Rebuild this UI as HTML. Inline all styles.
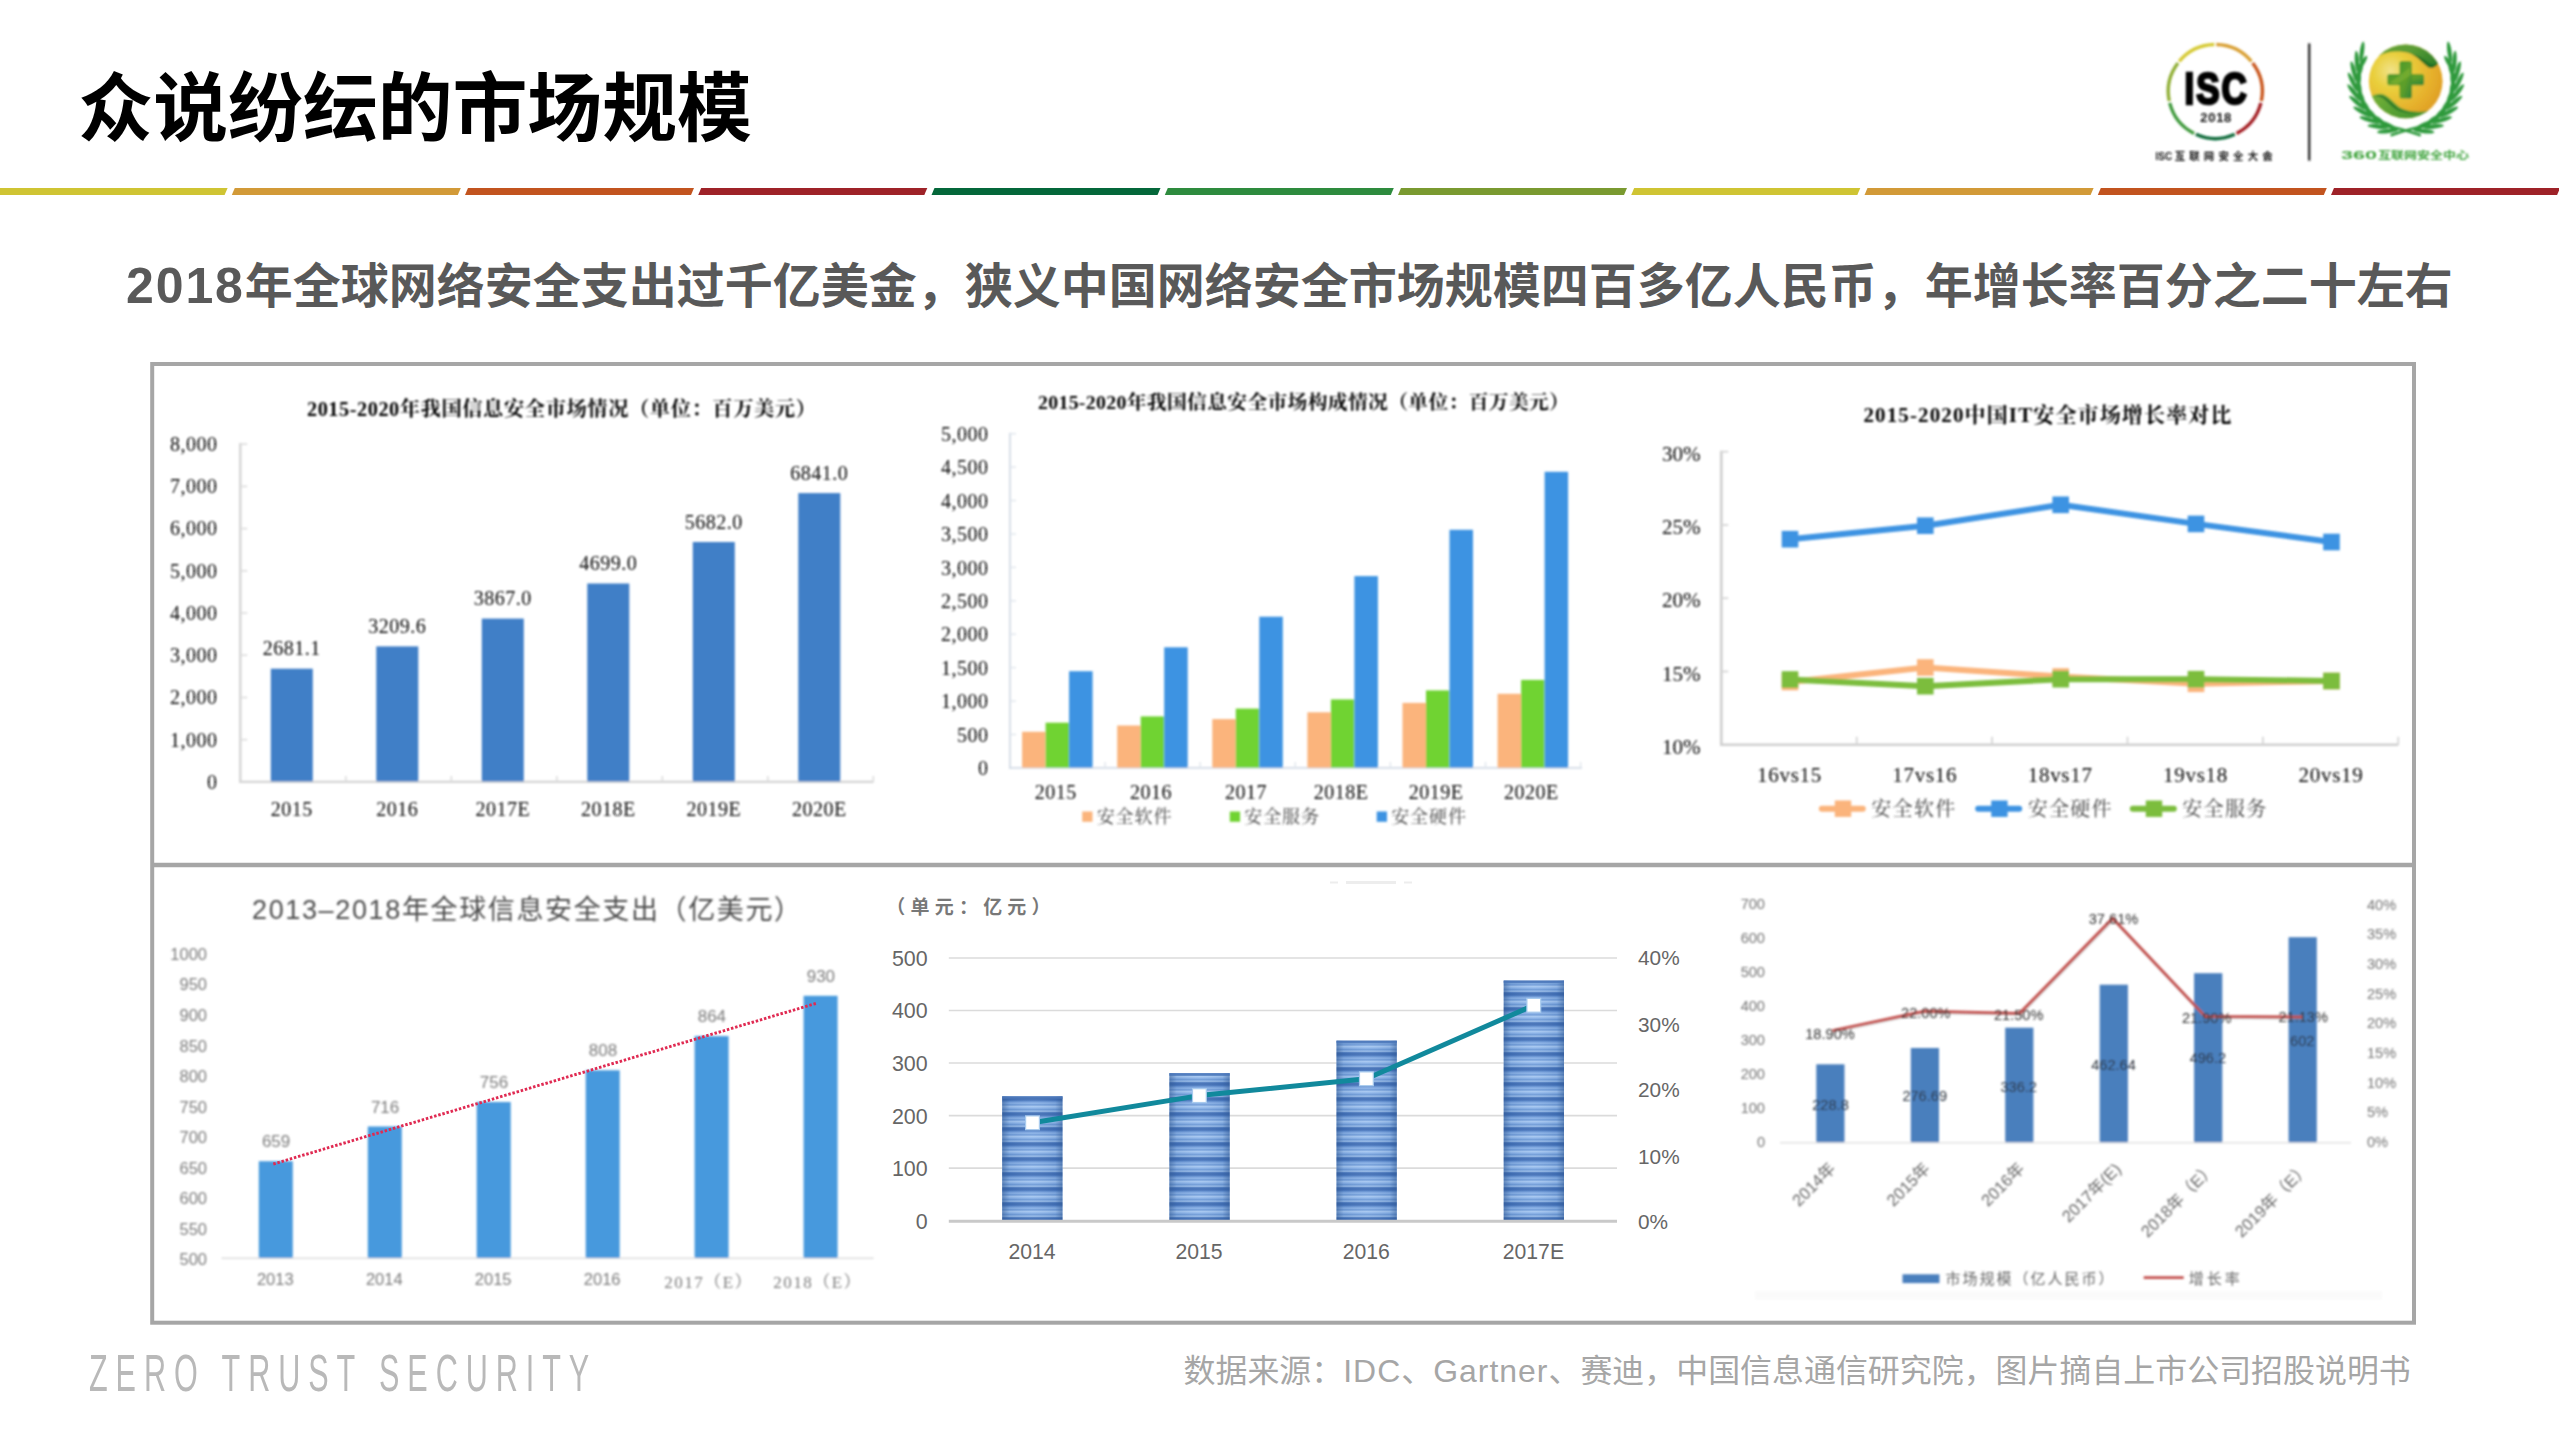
<!DOCTYPE html>
<html lang="zh-CN">
<head>
<meta charset="utf-8">
<title>众说纷纭的市场规模</title>
<style>
html,body{margin:0;padding:0;background:#fff;}
body{width:2559px;height:1439px;position:relative;overflow:hidden;font-family:"Liberation Sans","Noto Sans CJK SC",sans-serif;}
.abs{position:absolute;white-space:nowrap;}
#title{left:78.3px;top:54.3px;font-size:74.85px;font-weight:700;color:#000;line-height:110px;letter-spacing:0px;}
#sub{left:126px;top:251px;font-size:48px;font-weight:700;color:#595959;line-height:70px;}
#zts{left:89px;top:1341.5px;font-size:51px;color:#b9b9b9;line-height:64px;letter-spacing:13.2px;transform-origin:0 0;transform:scaleX(0.6);}
#src{left:1183.5px;top:1347px;font-size:31.95px;color:#a6a6a6;line-height:48px;}
svg{position:absolute;left:0;top:0;overflow:visible;}
svg text{white-space:pre;}
</style>
</head>
<body>
<div id="title" class="abs">众说纷纭的市场规模</div>
<div id="sub" class="abs"><span style="font-size:50px;letter-spacing:1.9px">2018</span>年全球网络安全支出过千亿美金，狭义中国网络安全市场规模四百多亿人民币，年增长率百分之二十左右</div>
<svg id="main" width="2559" height="1439" viewBox="0 0 2559 1439">
<defs><filter id="blurA" x="-5%" y="-5%" width="110%" height="110%"><feGaussianBlur stdDeviation="1"/></filter></defs>
<g id="colorbar">
<polygon points="-9.0,188 227.6,188 224.6,195 -12.0,195" fill="#cfc433"/>
<polygon points="234.8,188 460.8,188 457.8,195 231.8,195" fill="#d29a38"/>
<polygon points="468.0,188 694.0,188 691.0,195 465.0,195" fill="#c2541f"/>
<polygon points="701.2,188 927.3,188 924.3,195 698.2,195" fill="#9e2228"/>
<polygon points="934.5,188 1160.5,188 1157.5,195 931.5,195" fill="#04673a"/>
<polygon points="1167.8,188 1393.8,188 1390.8,195 1164.8,195" fill="#2e8b3e"/>
<polygon points="1401.0,188 1627.0,188 1624.0,195 1398.0,195" fill="#7a9a30"/>
<polygon points="1634.2,188 1860.3,188 1857.3,195 1631.2,195" fill="#cfc433"/>
<polygon points="1867.5,188 2093.6,188 2090.6,195 1864.5,195" fill="#d29a38"/>
<polygon points="2100.8,188 2326.8,188 2323.8,195 2097.8,195" fill="#c2541f"/>
<polygon points="2334.0,188 2560.1,188 2557.1,195 2331.0,195" fill="#9e2228"/>
</g>
<g id="frame" fill="none" stroke="#a6a6a6" stroke-width="4">
<rect x="152.2" y="364" width="2261.8" height="958.7"/>
<line x1="152.2" y1="865" x2="2414" y2="865" stroke-width="4.4"/>
</g>
<defs>
<radialGradient id="ball" cx="0.30" cy="0.36" r="0.8"><stop offset="0" stop-color="#f1e38a"/><stop offset="0.3" stop-color="#e9cf3c"/><stop offset="0.7" stop-color="#e6b02c"/><stop offset="1" stop-color="#dd9a22"/></radialGradient>
<linearGradient id="gcross" x1="0" y1="0" x2="1" y2="1"><stop offset="0" stop-color="#4b9a2c"/><stop offset="0.5" stop-color="#5f9f2a"/><stop offset="1" stop-color="#2f8436"/></linearGradient>
<linearGradient id="gswirl" x1="0" y1="0" x2="1" y2="0.5"><stop offset="0" stop-color="#6aa834"/><stop offset="0.6" stop-color="#5a9c34"/><stop offset="1" stop-color="#2c7f2a"/></linearGradient>
<clipPath id="ballclip"><circle cx="2405.7" cy="81.3" r="36.9"/></clipPath><linearGradient id="gswirl2" x1="0" y1="0" x2="1" y2="0.6"><stop offset="0" stop-color="#7db53a"/><stop offset="1" stop-color="#2f8a2a"/></linearGradient>
<filter id="blurL" x="-10%" y="-10%" width="120%" height="120%"><feGaussianBlur stdDeviation="1"/></filter>
</defs>
<g id="logos" filter="url(#blurL)">
<g fill="none" stroke-width="3.4">
<path d="M2216.28,44.51 A47,47 0 0 1 2251.42,61.43" stroke="#d9a036"/>
<path d="M2252.65,62.97 A47,47 0 0 1 2261.33,101.00" stroke="#c9571f"/>
<path d="M2260.89,102.92 A47,47 0 0 1 2236.57,133.41" stroke="#a31f24"/>
<path d="M2234.80,134.26 A47,47 0 0 1 2195.80,134.26" stroke="#0b6b3a"/>
<path d="M2194.03,133.41 A47,47 0 0 1 2169.71,102.92" stroke="#3f9a3c"/>
<path d="M2169.27,101.00 A47,47 0 0 1 2177.95,62.97" stroke="#8fae34"/>
<path d="M2179.18,61.43 A47,47 0 0 1 2214.32,44.51" stroke="#d6ca35"/>
</g>
<text transform="translate(2216.6,103.6) scale(0.8,1)" text-anchor="middle" font-family="'Liberation Sans','Noto Sans CJK SC',sans-serif" font-weight="700" font-size="43.7" fill="#000" stroke="#000" stroke-width="2.6" letter-spacing="2.5" stroke-linejoin="miter">ISC</text>
<text x="2216.2" y="122.3" text-anchor="middle" font-family="'Liberation Sans','Noto Sans CJK SC',sans-serif" font-weight="700" font-size="13" fill="#111" letter-spacing="0.7">2018</text>
<text x="2155.6" y="160" font-family="'Liberation Sans','Noto Sans CJK SC',sans-serif" font-weight="700" font-size="10.4" fill="#111"><tspan textLength="16.5" lengthAdjust="spacingAndGlyphs">ISC</tspan><tspan dx="2.6" letter-spacing="4.2">互联网安全大会</tspan></text>
<line x1="2309.2" y1="43.4" x2="2309.2" y2="160.6" stroke="#2b2b2b" stroke-width="2.4"/>
<circle cx="2405.7" cy="81.3" r="36.9" fill="url(#ball)"/>
<g clip-path="url(#ballclip)">
<path d="M2376.5,57.4 C2385,51.5 2398,50 2408.8,53 C2416,55 2421,61.5 2427.9,67.1 C2431,69.3 2435.5,67.5 2438.5,63 L2452,50 L2420,28 L2376,34 Z" fill="url(#gswirl)"/>
<path d="M2412,54.5 C2419,57.5 2423,63 2428.5,67.3 C2431.5,69.2 2435.5,67.3 2438.3,63.2 C2434,65 2430.5,64.5 2427,61.5 C2422.5,58 2418,55.5 2412,54.5 Z" fill="#1f6a26" opacity="0.75"/>
<path d="M2371,96.5 C2376,93.3 2381,93 2384.5,94.7 C2389,97 2393,101.5 2398.1,106.1 C2402,109.5 2410,111.5 2418,111.8 C2425,112 2430,110.5 2435.5,106.5 L2447,125 L2400,132 L2362,115 Z" fill="url(#gswirl2)"/>
<path d="M2373,97 C2377,94.5 2381,94.3 2384,96 C2388.5,98.5 2392,103 2397,107.3 C2401,110.5 2409,112.8 2417,113 C2409,113.8 2400,112.5 2394.5,108.5 C2389,104.5 2385,98.5 2380,97 C2377.5,96.3 2375,96.5 2373,97 Z" fill="#1f6a26" opacity="0.7"/>
</g>
<rect x="2387.3" y="74.1" width="36.8" height="11.2" rx="2.6" fill="url(#gcross)"/>
<rect x="2399.5" y="60.9" width="12.4" height="37.6" rx="2.6" fill="url(#gcross)"/>
<path d="M2389.7,82.7 L2409.7,67.7 L2411.2,74.7 L2396.7,84.7 Z" fill="#9fc23a" opacity="0.35"/>
<g fill="#2f9a3c" stroke="none">
<ellipse cx="2361.9" cy="52.0" rx="2.15" ry="10.6" transform="rotate(8.0 2361.9 52.0)"/>
<ellipse cx="2356.9" cy="61.3" rx="2.15" ry="10.6" transform="rotate(-3.6 2356.9 61.3)"/>
<ellipse cx="2362.1" cy="63.5" rx="2.15" ry="9.0" transform="rotate(32.4 2362.1 63.5)"/>
<ellipse cx="2353.9" cy="71.5" rx="2.15" ry="10.6" transform="rotate(-15.1 2353.9 71.5)"/>
<ellipse cx="2359.3" cy="72.6" rx="2.15" ry="9.0" transform="rotate(20.9 2359.3 72.6)"/>
<ellipse cx="2352.9" cy="82.1" rx="2.15" ry="10.6" transform="rotate(-26.7 2352.9 82.1)"/>
<ellipse cx="2358.5" cy="82.0" rx="2.15" ry="9.0" transform="rotate(9.3 2358.5 82.0)"/>
<ellipse cx="2354.1" cy="92.7" rx="2.15" ry="10.6" transform="rotate(-38.2 2354.1 92.7)"/>
<ellipse cx="2359.6" cy="91.5" rx="2.15" ry="9.0" transform="rotate(-2.2 2359.6 91.5)"/>
<ellipse cx="2357.4" cy="102.8" rx="2.15" ry="10.6" transform="rotate(-49.8 2357.4 102.8)"/>
<ellipse cx="2362.5" cy="100.5" rx="2.15" ry="9.0" transform="rotate(-13.8 2362.5 100.5)"/>
<ellipse cx="2362.6" cy="112.0" rx="2.15" ry="10.6" transform="rotate(-61.3 2362.6 112.0)"/>
<ellipse cx="2367.2" cy="108.8" rx="2.15" ry="9.0" transform="rotate(-25.3 2367.2 108.8)"/>
<ellipse cx="2369.6" cy="120.0" rx="2.15" ry="10.6" transform="rotate(-72.9 2369.6 120.0)"/>
<ellipse cx="2373.4" cy="116.0" rx="2.15" ry="9.0" transform="rotate(-36.9 2373.4 116.0)"/>
<ellipse cx="2378.1" cy="126.5" rx="2.15" ry="10.6" transform="rotate(-84.4 2378.1 126.5)"/>
<ellipse cx="2381.0" cy="121.7" rx="2.15" ry="9.0" transform="rotate(-48.4 2381.0 121.7)"/>
<ellipse cx="2387.6" cy="131.1" rx="2.15" ry="10.6" transform="rotate(-96.0 2387.6 131.1)"/>
<ellipse cx="2389.6" cy="125.9" rx="2.15" ry="9.0" transform="rotate(-60.0 2389.6 125.9)"/>
<path d="M2383.7,125.0 Q2400.7,128.5 2419.7,135.0" stroke="#2f9a3c" stroke-width="2.8" fill="none" stroke-linecap="round"/>
<ellipse cx="2449.5" cy="52.0" rx="2.15" ry="10.6" transform="rotate(-8.0 2449.5 52.0)"/>
<ellipse cx="2454.5" cy="61.3" rx="2.15" ry="10.6" transform="rotate(3.6 2454.5 61.3)"/>
<ellipse cx="2449.3" cy="63.5" rx="2.15" ry="9.0" transform="rotate(-32.4 2449.3 63.5)"/>
<ellipse cx="2457.5" cy="71.5" rx="2.15" ry="10.6" transform="rotate(15.1 2457.5 71.5)"/>
<ellipse cx="2452.1" cy="72.6" rx="2.15" ry="9.0" transform="rotate(-20.9 2452.1 72.6)"/>
<ellipse cx="2458.5" cy="82.1" rx="2.15" ry="10.6" transform="rotate(26.7 2458.5 82.1)"/>
<ellipse cx="2452.9" cy="82.0" rx="2.15" ry="9.0" transform="rotate(-9.3 2452.9 82.0)"/>
<ellipse cx="2457.3" cy="92.7" rx="2.15" ry="10.6" transform="rotate(38.2 2457.3 92.7)"/>
<ellipse cx="2451.8" cy="91.5" rx="2.15" ry="9.0" transform="rotate(2.2 2451.8 91.5)"/>
<ellipse cx="2454.0" cy="102.8" rx="2.15" ry="10.6" transform="rotate(49.8 2454.0 102.8)"/>
<ellipse cx="2448.9" cy="100.5" rx="2.15" ry="9.0" transform="rotate(13.8 2448.9 100.5)"/>
<ellipse cx="2448.8" cy="112.0" rx="2.15" ry="10.6" transform="rotate(61.3 2448.8 112.0)"/>
<ellipse cx="2444.2" cy="108.8" rx="2.15" ry="9.0" transform="rotate(25.3 2444.2 108.8)"/>
<ellipse cx="2441.8" cy="120.0" rx="2.15" ry="10.6" transform="rotate(72.9 2441.8 120.0)"/>
<ellipse cx="2438.0" cy="116.0" rx="2.15" ry="9.0" transform="rotate(36.9 2438.0 116.0)"/>
<ellipse cx="2433.3" cy="126.5" rx="2.15" ry="10.6" transform="rotate(84.4 2433.3 126.5)"/>
<ellipse cx="2430.4" cy="121.7" rx="2.15" ry="9.0" transform="rotate(48.4 2430.4 121.7)"/>
<ellipse cx="2423.8" cy="131.1" rx="2.15" ry="10.6" transform="rotate(96.0 2423.8 131.1)"/>
<ellipse cx="2421.8" cy="125.9" rx="2.15" ry="9.0" transform="rotate(60.0 2421.8 125.9)"/>
<path d="M2427.7,125.0 Q2410.7,128.5 2391.7,135.0" stroke="#2f9a3c" stroke-width="2.8" fill="none" stroke-linecap="round"/>
</g>
<text x="2341" y="158.8" font-family="'Liberation Sans','Noto Sans CJK SC',sans-serif" font-weight="700" font-size="10.6" fill="#3da33a"><tspan textLength="36" lengthAdjust="spacingAndGlyphs">360</tspan><tspan dx="1" textLength="91" lengthAdjust="spacingAndGlyphs">互联网安全中心</tspan></text>
</g>
<g id="chart1" filter="url(#blurA)" font-family="'Liberation Serif','Noto Serif CJK SC',serif" fill="#0c0c0c">
<text x="561.5" y="415.5" text-anchor="middle" font-size="20.3" font-weight="700" fill="#000" textLength="509" lengthAdjust="spacing">2015-2020年我国信息安全市场情况（单位：百万美元）</text>
<g stroke="#d4d4d4" stroke-width="2.4" fill="none">
<line x1="240.3" y1="443.1" x2="240.3" y2="782.9"/>
<line x1="239.3" y1="781.9" x2="873.5" y2="781.9"/>
</g>
<g stroke="#dcdcdc" stroke-width="1.6">
<line x1="240.3" y1="739.7" x2="247.3" y2="739.7"/>
<line x1="240.3" y1="697.5" x2="247.3" y2="697.5"/>
<line x1="240.3" y1="655.2" x2="247.3" y2="655.2"/>
<line x1="240.3" y1="613.0" x2="247.3" y2="613.0"/>
<line x1="240.3" y1="570.8" x2="247.3" y2="570.8"/>
<line x1="240.3" y1="528.6" x2="247.3" y2="528.6"/>
<line x1="240.3" y1="486.4" x2="247.3" y2="486.4"/>
<line x1="240.3" y1="444.1" x2="247.3" y2="444.1"/>
<line x1="345.8" y1="775.9" x2="345.8" y2="781.9"/>
<line x1="451.3" y1="775.9" x2="451.3" y2="781.9"/>
<line x1="556.8" y1="775.9" x2="556.8" y2="781.9"/>
<line x1="662.3" y1="775.9" x2="662.3" y2="781.9"/>
<line x1="767.8" y1="775.9" x2="767.8" y2="781.9"/>
<line x1="873.3" y1="775.9" x2="873.3" y2="781.9"/>
</g>
<g font-size="20" text-anchor="end" letter-spacing="0.5">
<text x="217.5" y="788.7">0</text>
<text x="217.5" y="746.5">1,000</text>
<text x="217.5" y="704.3">2,000</text>
<text x="217.5" y="662.0">3,000</text>
<text x="217.5" y="619.8">4,000</text>
<text x="217.5" y="577.6">5,000</text>
<text x="217.5" y="535.4">6,000</text>
<text x="217.5" y="493.2">7,000</text>
<text x="217.5" y="450.9">8,000</text>
</g>
<g fill="#3f7fc7">
<rect x="270.8" y="668.7" width="42" height="112.7"/>
<rect x="376.3" y="646.4" width="42" height="135.0"/>
<rect x="481.8" y="618.6" width="42" height="162.8"/>
<rect x="587.3" y="583.5" width="42" height="197.9"/>
<rect x="692.8" y="542.0" width="42" height="239.4"/>
<rect x="798.3" y="493.1" width="42" height="288.3"/>
</g>
<g font-size="20" text-anchor="middle" letter-spacing="0.5">
<text x="291.8" y="655.2">2681.1</text>
<text x="397.3" y="632.9">3209.6</text>
<text x="502.8" y="605.1">3867.0</text>
<text x="608.3" y="570.0">4699.0</text>
<text x="713.8" y="528.5">5682.0</text>
<text x="819.3" y="479.6">6841.0</text>
<text x="291.8" y="816">2015</text>
<text x="397.3" y="816">2016</text>
<text x="502.8" y="816">2017E</text>
<text x="608.3" y="816">2018E</text>
<text x="713.8" y="816">2019E</text>
<text x="819.3" y="816">2020E</text>
</g>
</g>
<g id="chart2" filter="url(#blurA)" font-family="'Liberation Serif','Noto Serif CJK SC',serif" fill="#0c0c0c">
<text x="1303.5" y="408.5" text-anchor="middle" font-size="19.8" font-weight="700" fill="#000" textLength="531" lengthAdjust="spacing">2015-2020年我国信息安全市场构成情况（单位：百万美元）</text>
<g stroke="#d3dbe6" stroke-width="1.8" fill="none">
<line x1="1010" y1="432.7" x2="1010" y2="768.9"/>
<line x1="1009" y1="767.9" x2="1582" y2="767.9"/>
</g>
<g stroke="#dfe5ec" stroke-width="1.4">
<line x1="1010" y1="734.5" x2="1016" y2="734.5"/>
<line x1="1010" y1="701.1" x2="1016" y2="701.1"/>
<line x1="1010" y1="667.6" x2="1016" y2="667.6"/>
<line x1="1010" y1="634.2" x2="1016" y2="634.2"/>
<line x1="1010" y1="600.8" x2="1016" y2="600.8"/>
<line x1="1010" y1="567.4" x2="1016" y2="567.4"/>
<line x1="1010" y1="534.0" x2="1016" y2="534.0"/>
<line x1="1010" y1="500.5" x2="1016" y2="500.5"/>
<line x1="1010" y1="467.1" x2="1016" y2="467.1"/>
<line x1="1010" y1="433.7" x2="1016" y2="433.7"/>
<line x1="1105.1" y1="761.9" x2="1105.1" y2="767.9"/>
<line x1="1200.2" y1="761.9" x2="1200.2" y2="767.9"/>
<line x1="1295.3" y1="761.9" x2="1295.3" y2="767.9"/>
<line x1="1390.4" y1="761.9" x2="1390.4" y2="767.9"/>
<line x1="1485.5" y1="761.9" x2="1485.5" y2="767.9"/>
<line x1="1580.6" y1="761.9" x2="1580.6" y2="767.9"/>
</g>
<g font-size="20" text-anchor="end" letter-spacing="0.5">
<text x="988.5" y="775.1">0</text>
<text x="988.5" y="741.7">500</text>
<text x="988.5" y="708.3">1,000</text>
<text x="988.5" y="674.8">1,500</text>
<text x="988.5" y="641.4">2,000</text>
<text x="988.5" y="608.0">2,500</text>
<text x="988.5" y="574.6">3,000</text>
<text x="988.5" y="541.2">3,500</text>
<text x="988.5" y="507.7">4,000</text>
<text x="988.5" y="474.3">4,500</text>
<text x="988.5" y="440.9">5,000</text>
</g>
<g fill="#fbb47c">
<rect x="1022.1" y="731.8" width="23.5" height="35.8"/>
<rect x="1117.2" y="725.5" width="23.5" height="42.1"/>
<rect x="1212.3" y="719.1" width="23.5" height="48.5"/>
<rect x="1307.4" y="712.3" width="23.5" height="55.3"/>
<rect x="1402.5" y="702.9" width="23.5" height="64.7"/>
<rect x="1497.6" y="693.8" width="23.5" height="73.8"/>
</g>
<g fill="#70d330">
<rect x="1045.6" y="722.7" width="23.5" height="44.9"/>
<rect x="1140.7" y="716.4" width="23.5" height="51.2"/>
<rect x="1235.8" y="708.6" width="23.5" height="59.0"/>
<rect x="1330.9" y="699.4" width="23.5" height="68.2"/>
<rect x="1426.0" y="690.4" width="23.5" height="77.2"/>
<rect x="1521.1" y="679.9" width="23.5" height="87.7"/>
</g>
<g fill="#3c93e2">
<rect x="1069.1" y="671.2" width="23.5" height="96.4"/>
<rect x="1164.2" y="647.3" width="23.5" height="120.3"/>
<rect x="1259.3" y="616.7" width="23.5" height="150.9"/>
<rect x="1354.4" y="576.1" width="23.5" height="191.5"/>
<rect x="1449.5" y="529.8" width="23.5" height="237.8"/>
<rect x="1544.6" y="471.8" width="23.5" height="295.8"/>
</g>
<g font-size="20" text-anchor="middle" letter-spacing="0.5">
<text x="1055.8" y="799.2">2015</text>
<text x="1151.0" y="799.2">2016</text>
<text x="1246.0" y="799.2">2017</text>
<text x="1341.2" y="799.2">2018E</text>
<text x="1436.2" y="799.2">2019E</text>
<text x="1531.3" y="799.2">2020E</text>
</g>
<g font-size="18" fill="#474747" letter-spacing="0.9">
<rect x="1082.2" y="811.5" width="10.3" height="10.3" fill="#fbb47c"/>
<text x="1096.7" y="823">安全软件</text>
<rect x="1229.8" y="811.5" width="10.3" height="10.3" fill="#70d330"/>
<text x="1244.3" y="823">安全服务</text>
<rect x="1376.7" y="811.5" width="10.3" height="10.3" fill="#3c93e2"/>
<text x="1391.2" y="823">安全硬件</text>
</g>
</g>
<g id="chart3" filter="url(#blurA)" font-family="'Liberation Serif','Noto Serif CJK SC',serif" fill="#0c0c0c">
<text x="2047.4" y="421.7" text-anchor="middle" font-size="21" font-weight="700" fill="#000" textLength="368" lengthAdjust="spacing">2015-2020中国IT安全市场增长率对比</text>
<g stroke="#cfcfcf" stroke-width="2.6" fill="none">
<polyline points="1721.3,450.7 1721.3,744.7 2398.3,744.7"/>
</g>
<g stroke="#d6d6d6" stroke-width="1.8">
<line x1="1721.3" y1="671.5" x2="1728.3" y2="671.5"/>
<line x1="1721.3" y1="598.2" x2="1728.3" y2="598.2"/>
<line x1="1721.3" y1="525.0" x2="1728.3" y2="525.0"/>
<line x1="1721.3" y1="451.7" x2="1728.3" y2="451.7"/>
<line x1="1856.7" y1="736.7" x2="1856.7" y2="744.7"/>
<line x1="1992.1" y1="736.7" x2="1992.1" y2="744.7"/>
<line x1="2127.5" y1="736.7" x2="2127.5" y2="744.7"/>
<line x1="2262.9" y1="736.7" x2="2262.9" y2="744.7"/>
<line x1="2398.3" y1="736.7" x2="2398.3" y2="744.7"/>
</g>
<g font-size="21" text-anchor="end">
<text x="1700.5" y="753.7">10%</text>
<text x="1700.5" y="680.5">15%</text>
<text x="1700.5" y="607.2">20%</text>
<text x="1700.5" y="534.0">25%</text>
<text x="1700.5" y="460.7">30%</text>
</g>
<polyline points="1790.0,682.0 1925.3,667.5 2060.7,676.5 2196.0,683.8 2331.5,681.0" fill="none" stroke="#fbb47c" stroke-width="6" stroke-linejoin="round"/>
<g fill="#fbb47c">
<rect x="1781.7" y="673.7" width="16.6" height="16.6"/>
<rect x="1917.0" y="659.2" width="16.6" height="16.6"/>
<rect x="2052.4" y="668.2" width="16.6" height="16.6"/>
<rect x="2187.7" y="675.5" width="16.6" height="16.6"/>
<rect x="2323.2" y="672.7" width="16.6" height="16.6"/>
</g>
<polyline points="1790.0,539.2 1925.3,525.7 2060.7,504.8 2196.0,523.9 2331.5,542.0" fill="none" stroke="#3c93e2" stroke-width="6" stroke-linejoin="round"/>
<g fill="#3c93e2">
<rect x="1781.7" y="530.9" width="16.6" height="16.6"/>
<rect x="1917.0" y="517.4" width="16.6" height="16.6"/>
<rect x="2052.4" y="496.5" width="16.6" height="16.6"/>
<rect x="2187.7" y="515.6" width="16.6" height="16.6"/>
<rect x="2323.2" y="533.7" width="16.6" height="16.6"/>
</g>
<polyline points="1790.0,679.5 1925.3,686.2 2060.7,679.2 2196.0,679.2 2331.5,681.0" fill="none" stroke="#7bbd3c" stroke-width="6" stroke-linejoin="round"/>
<g fill="#7bbd3c">
<rect x="1781.7" y="671.2" width="16.6" height="16.6"/>
<rect x="1917.0" y="677.9" width="16.6" height="16.6"/>
<rect x="2052.4" y="670.9" width="16.6" height="16.6"/>
<rect x="2187.7" y="670.9" width="16.6" height="16.6"/>
<rect x="2323.2" y="672.7" width="16.6" height="16.6"/>
</g>
<g font-size="21" text-anchor="middle" letter-spacing="0.7">
<text x="1789.5" y="782.3">16vs15</text>
<text x="1924.8" y="782.3">17vs16</text>
<text x="2060.2" y="782.3">18vs17</text>
<text x="2195.5" y="782.3">19vs18</text>
<text x="2331.0" y="782.3">20vs19</text>
</g>
<g font-size="20" fill="#444" letter-spacing="1.3">
<line x1="1821.8" y1="808.7" x2="1862.8" y2="808.7" stroke="#fbb47c" stroke-width="6" stroke-linecap="round"/>
<rect x="1834.8" y="800.5" width="16.4" height="16.4" fill="#fbb47c"/>
<text x="1871.3" y="816">安全软件</text>
<line x1="1978.2" y1="808.7" x2="2019.2" y2="808.7" stroke="#3c93e2" stroke-width="6" stroke-linecap="round"/>
<rect x="1991.2" y="800.5" width="16.4" height="16.4" fill="#3c93e2"/>
<text x="2027.7" y="816">安全硬件</text>
<line x1="2132.8" y1="808.7" x2="2173.8" y2="808.7" stroke="#7bbd3c" stroke-width="6" stroke-linecap="round"/>
<rect x="2145.8" y="800.5" width="16.4" height="16.4" fill="#7bbd3c"/>
<text x="2182.3" y="816">安全服务</text>
</g>
</g>
<g id="chart4" filter="url(#blurA)" font-family="'Liberation Sans','Noto Sans CJK SC',sans-serif" fill="#7c7c7c">
<text x="252" y="918.5" font-size="27" fill="#4e4e4e" textLength="549" lengthAdjust="spacing">2013–2018年全球信息安全支出（亿美元）</text>
<line x1="221.5" y1="1258.3" x2="873.7" y2="1258.3" stroke="#dcdcdc" stroke-width="1.6"/>
<g font-size="16.5" text-anchor="end">
<text x="207" y="1265.1">500</text>
<text x="207" y="1234.6">550</text>
<text x="207" y="1204.1">600</text>
<text x="207" y="1173.5">650</text>
<text x="207" y="1143.0">700</text>
<text x="207" y="1112.5">750</text>
<text x="207" y="1082.0">800</text>
<text x="207" y="1051.5">850</text>
<text x="207" y="1020.9">900</text>
<text x="207" y="990.4">950</text>
<text x="207" y="959.9">1000</text>
</g>
<g fill="#4799dd">
<rect x="258.8" y="1161.2" width="34" height="96.6"/>
<rect x="367.8" y="1126.5" width="34" height="131.3"/>
<rect x="476.7" y="1102.0" width="34" height="155.8"/>
<rect x="585.7" y="1070.3" width="34" height="187.5"/>
<rect x="694.6" y="1036.1" width="34" height="221.7"/>
<rect x="803.6" y="995.8" width="34" height="262.0"/>
</g>
<g font-size="17" text-anchor="middle">
<text x="276.1" y="1147.2">659</text>
<text x="385.1" y="1112.5">716</text>
<text x="494.0" y="1088.0">756</text>
<text x="603.0" y="1056.3">808</text>
<text x="711.9" y="1022.1">864</text>
<text x="820.9" y="981.8">930</text>
</g>
<g font-size="16.5" text-anchor="middle">
<text x="275.3" y="1285.2">2013</text>
<text x="384.3" y="1285.2">2014</text>
<text x="493.2" y="1285.2">2015</text>
<text x="602.2" y="1285.2">2016</text>
<text x="708.6" y="1287.8" font-family="'Liberation Serif','Noto Serif CJK SC',serif" font-size="17" letter-spacing="1.5">2017（E）</text>
<text x="817.6" y="1287.8" font-family="'Liberation Serif','Noto Serif CJK SC',serif" font-size="17" letter-spacing="1.5">2018（E）</text>
</g>
</g>
<line x1="273.3" y1="1164" x2="817.5" y2="1003" stroke="#e02a52" stroke-width="2.9" stroke-dasharray="2.5 1.8"/>
<defs>
<pattern id="stripe5" x="0" y="1220.6" width="20" height="15" patternUnits="userSpaceOnUse">
<rect x="0" y="0" width="20" height="15" fill="#8fb6ea"/>
<rect x="0" y="0" width="20" height="1.6" fill="#5d8bce"/>
<rect x="0" y="3.4" width="20" height="1.6" fill="#6b98d6"/>
<rect x="0" y="5" width="20" height="1.4" fill="#a9caf2"/>
<rect x="0" y="8.2" width="20" height="1.8" fill="#6b98d6"/>
<rect x="0" y="10" width="20" height="1.2" fill="#a9caf2"/>
<rect x="0" y="11.4" width="20" height="3.6" fill="#416fb6"/>
</pattern>
<linearGradient id="edge5" x1="0" y1="0" x2="1" y2="0">
<stop offset="0" stop-color="#2f568f" stop-opacity="0.55"/>
<stop offset="0.12" stop-color="#2f568f" stop-opacity="0.12"/>
<stop offset="0.5" stop-color="#ffffff" stop-opacity="0.06"/>
<stop offset="0.88" stop-color="#2f568f" stop-opacity="0.12"/>
<stop offset="1" stop-color="#2f568f" stop-opacity="0.55"/>
</linearGradient>
</defs>
<g id="chart5" font-family="'Liberation Sans','Noto Sans CJK SC',sans-serif" fill="#666">
<text x="886.3" y="913.6" font-size="19" font-weight="700" fill="#787878" textLength="164.3" lengthAdjust="spacing">（单元：亿元）</text>
<g fill="#ededed"><rect x="1330" y="881.5" width="8" height="2"/><rect x="1346" y="881" width="50" height="3"/><rect x="1404" y="881.5" width="8" height="2"/></g>
<g stroke="#dbdbdb" stroke-width="1.6">
<line x1="948.8" y1="1168.1" x2="1617" y2="1168.1"/>
<line x1="948.8" y1="1115.6" x2="1617" y2="1115.6"/>
<line x1="948.8" y1="1063.0" x2="1617" y2="1063.0"/>
<line x1="948.8" y1="1010.5" x2="1617" y2="1010.5"/>
<line x1="948.8" y1="958.0" x2="1617" y2="958.0"/>
</g>
<rect x="1002.2" y="1096.2" width="60.3" height="124.4" fill="url(#stripe5)"/>
<rect x="1002.2" y="1096.2" width="60.3" height="124.4" fill="url(#edge5)"/>
<rect x="1002.2" y="1096.2" width="60.3" height="2.6" fill="#4a76b8" opacity="0.8"/>
<rect x="1169.4" y="1073.1" width="60.3" height="147.5" fill="url(#stripe5)"/>
<rect x="1169.4" y="1073.1" width="60.3" height="147.5" fill="url(#edge5)"/>
<rect x="1169.4" y="1073.1" width="60.3" height="2.6" fill="#4a76b8" opacity="0.8"/>
<rect x="1336.5" y="1040.7" width="60.3" height="179.9" fill="url(#stripe5)"/>
<rect x="1336.5" y="1040.7" width="60.3" height="179.9" fill="url(#edge5)"/>
<rect x="1336.5" y="1040.7" width="60.3" height="2.6" fill="#4a76b8" opacity="0.8"/>
<rect x="1503.7" y="980.6" width="60.3" height="240.0" fill="url(#stripe5)"/>
<rect x="1503.7" y="980.6" width="60.3" height="240.0" fill="url(#edge5)"/>
<rect x="1503.7" y="980.6" width="60.3" height="2.6" fill="#4a76b8" opacity="0.8"/>
<line x1="948.8" y1="1221.2" x2="1617" y2="1221.2" stroke="#c9c9c9" stroke-width="3"/>
<g font-size="21.4" text-anchor="end">
<text x="927.6" y="1228.5">0</text>
<text x="927.6" y="1176.0">100</text>
<text x="927.6" y="1123.5">200</text>
<text x="927.6" y="1070.9">300</text>
<text x="927.6" y="1018.4">400</text>
<text x="927.6" y="965.9">500</text>
</g>
<g font-size="20.8" text-anchor="start">
<text x="1638" y="1228.7">0%</text>
<text x="1638" y="1163.7">10%</text>
<text x="1638" y="1097.4">20%</text>
<text x="1638" y="1031.7">30%</text>
<text x="1638" y="965.4">40%</text>
</g>
<polyline points="1032.5,1122.8 1199.4,1095.6 1366.4,1078.8 1533.8,1005.3" fill="none" stroke="#11899c" stroke-width="5" stroke-linejoin="round"/>
<rect x="1025.6" y="1115.9" width="13.8" height="13.8" fill="#ffffff" stroke="#a9cbee" stroke-width="1.2"/>
<rect x="1192.5" y="1088.7" width="13.8" height="13.8" fill="#ffffff" stroke="#a9cbee" stroke-width="1.2"/>
<rect x="1359.5" y="1071.9" width="13.8" height="13.8" fill="#ffffff" stroke="#a9cbee" stroke-width="1.2"/>
<rect x="1526.9" y="998.4" width="13.8" height="13.8" fill="#ffffff" stroke="#a9cbee" stroke-width="1.2"/>
<g font-size="21.2" text-anchor="middle">
<text x="1032.0" y="1258.8">2014</text>
<text x="1199.1" y="1258.8">2015</text>
<text x="1366.2" y="1258.8">2016</text>
<text x="1533.4" y="1258.8">2017E</text>
</g>
</g>
<defs><filter id="blur6" x="-5%" y="-5%" width="110%" height="110%"><feGaussianBlur stdDeviation="1"/></filter></defs>
<g id="chart6" font-family="'Liberation Sans','Noto Sans CJK SC',sans-serif" fill="#747474" filter="url(#blur6)">
<rect x="1755" y="1291" width="627" height="8.5" fill="#fafafa"/>
<line x1="1780" y1="1142.7" x2="2351" y2="1142.7" stroke="#e2e2e2" stroke-width="1.4"/>
<g font-size="14.6" text-anchor="end">
<text x="1765" y="1146.9">0</text>
<text x="1765" y="1112.9">100</text>
<text x="1765" y="1078.8">200</text>
<text x="1765" y="1044.8">300</text>
<text x="1765" y="1010.7">400</text>
<text x="1765" y="976.7">500</text>
<text x="1765" y="942.6">600</text>
<text x="1765" y="908.6">700</text>
</g>
<g font-size="14.6" text-anchor="start">
<text x="2367" y="1146.9">0%</text>
<text x="2367" y="1117.2">5%</text>
<text x="2367" y="1087.5">10%</text>
<text x="2367" y="1057.9">15%</text>
<text x="2367" y="1028.2">20%</text>
<text x="2367" y="998.5">25%</text>
<text x="2367" y="968.8">30%</text>
<text x="2367" y="939.1">35%</text>
<text x="2367" y="909.5">40%</text>
</g>
<g fill="#4a7fbd">
<rect x="1816.3" y="1064.3" width="28.2" height="77.9"/>
<rect x="1910.8" y="1048.0" width="28.2" height="94.2"/>
<rect x="2005.2" y="1027.7" width="28.2" height="114.5"/>
<rect x="2099.7" y="984.7" width="28.2" height="157.5"/>
<rect x="2194.1" y="973.2" width="28.2" height="169.0"/>
<rect x="2288.6" y="937.2" width="28.2" height="205.0"/>
</g>
<g font-size="14.6" text-anchor="middle" fill="#2c333c">
<text x="1830.5" y="1110.0">228.8</text>
<text x="1924.7" y="1101.2">276.69</text>
<text x="2018.7" y="1091.5">336.2</text>
<text x="2113.5" y="1069.7">462.64</text>
<text x="2207.9" y="1062.7">496.2</text>
<text x="2302.3" y="1045.7">602</text>
</g>
<polyline points="1832.5,1030.5 1924.5,1011.2 2019.6,1013.3 2112.6,918.2 2205.2,1016.4 2302.3,1017" fill="none" stroke="#8a8a8a" stroke-width="3" stroke-linejoin="round" opacity="0.35" transform="translate(0.8,1.2)"/>
<polyline points="1832.5,1030.5 1924.5,1011.2 2019.6,1013.3 2112.6,918.2 2205.2,1016.4 2302.3,1017" fill="none" stroke="#c3504d" stroke-width="2.8" stroke-linejoin="round"/>
<g font-size="14.6" text-anchor="middle" fill="#303030">
<text x="1830" y="1038.9">18.90%</text>
<text x="1925.8" y="1017.5">22.00%</text>
<text x="2018.7" y="1020.4">21.50%</text>
<text x="2113.5" y="923.7">37.61%</text>
<text x="2206.7" y="1023.4">21.90%</text>
<text x="2303.2" y="1022.4">21.13%</text>
</g>
<g font-size="16.5" text-anchor="end" fill="#676767">
<text transform="translate(1833,1166) rotate(-45)" x="0" y="5">2014年</text>
<text transform="translate(1927.5,1166) rotate(-45)" x="0" y="5">2015年</text>
<text transform="translate(2022,1166) rotate(-45)" x="0" y="5">2016年</text>
<text transform="translate(2118.5,1166.5) rotate(-45)" x="0" y="5">2017年(E)</text>
<text transform="translate(2213,1166) rotate(-45)" x="0" y="5">2018年（E）</text>
<text transform="translate(2307,1166) rotate(-45)" x="0" y="5">2019年（E）</text>
</g>
<rect x="1902.5" y="1274.3" width="37" height="8.8" fill="#4a7fbd"/>
<text x="1945.5" y="1284" font-size="15" fill="#676767" textLength="168" lengthAdjust="spacing">市场规模（亿人民币）</text>
<line x1="2143.7" y1="1277.6" x2="2183.7" y2="1277.6" stroke="#c3504d" stroke-width="2.6"/>
<text x="2188.7" y="1284" font-size="15" fill="#676767" textLength="51" lengthAdjust="spacing">增长率</text>
</g>

</svg>
<div id="zts" class="abs">ZERO TRUST SECURITY</div>
<div id="src" class="abs">数据来源：<span style="letter-spacing:1px">IDC</span>、<span style="letter-spacing:1px">Gartner</span>、赛迪，中国信息通信研究院，图片摘自上市公司招股说明书</div>
</body>
</html>
